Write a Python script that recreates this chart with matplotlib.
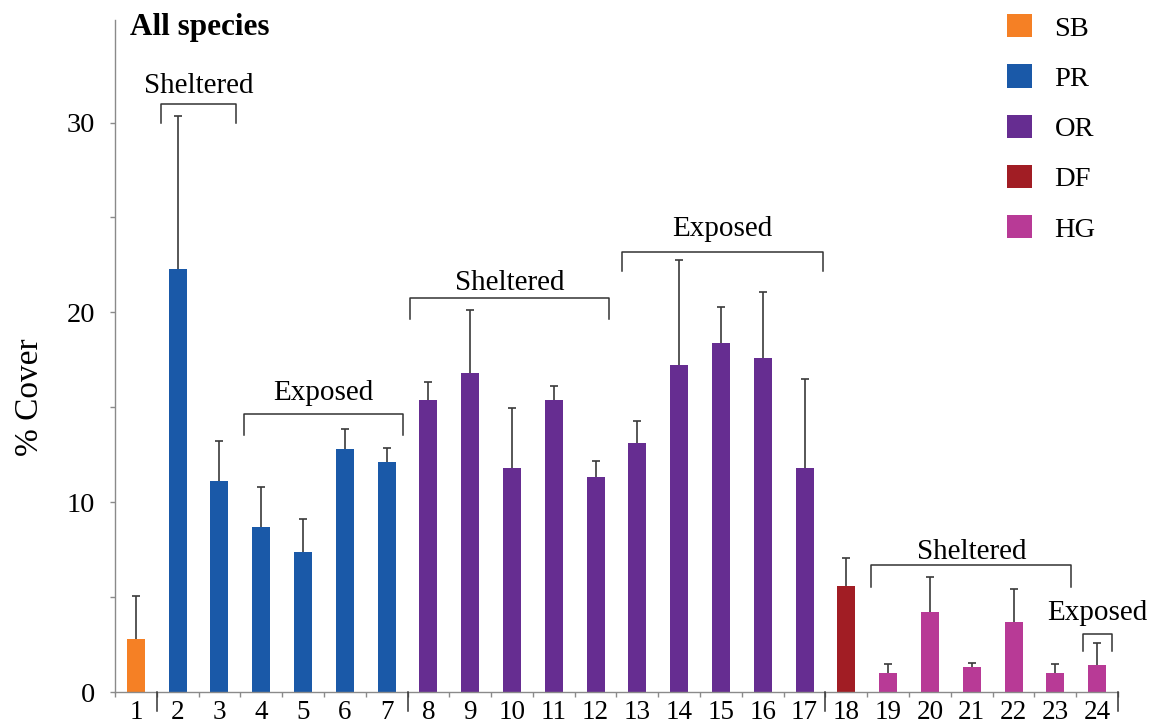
import matplotlib
matplotlib.use("Agg")
import matplotlib.pyplot as plt
from matplotlib.patches import Patch
import numpy as np

plt.rcParams['font.family'] = ['Liberation Serif', 'DejaVu Serif']

# Sites 1-24, mean % cover and upper standard error
sites = list(range(1, 25))
mean_cover = [2.8, 22.3, 11.1, 8.7, 7.4, 12.8, 12.1, 15.4, 16.8, 11.8, 15.4, 11.3,
              13.1, 17.2, 18.4, 17.6, 11.8, 5.6, 1.0, 4.2, 1.3, 3.7, 1.0, 1.4]
se_cover = [2.25, 8.05, 2.1, 2.1, 1.7, 1.05, 0.75, 0.95, 3.3, 3.15, 0.7, 0.85,
            1.15, 5.55, 1.9, 3.45, 4.7, 1.45, 0.45, 1.85, 0.25, 1.75, 0.45, 1.2]
region = ['SB'] + ['PR'] * 6 + ['OR'] * 10 + ['DF'] + ['HG'] * 6

region_names = ['SB', 'PR', 'OR', 'DF', 'HG']
region_colors = {'SB': '#F58025', 'PR': '#1A59A8', 'OR': '#662D91',
                 'DF': '#A11D24', 'HG': '#B83A96'}

# Boundaries between regions on the x axis
region_breaks = [1.5, 7.5, 17.5, 24.5]

# Exposure brackets: label, x start, x end, bracket top, leg bottom, text baseline
bracket_labels = ['Sheltered', 'Exposed', 'Sheltered', 'Exposed', 'Sheltered', 'Exposed']
bracket_x0 = [1.6, 3.58, 7.57, 12.63, 18.6, 23.66]
bracket_x1 = [3.4, 7.39, 12.33, 17.43, 23.38, 24.35]
bracket_top = [31.0, 14.65, 20.75, 23.2, 6.68, 3.07]
bracket_leg = [29.95, 13.56, 19.67, 22.16, 5.54, 2.17]
bracket_text_y = [31.55, 15.37, 21.2, 24.02, 7.0, 3.8]

fig = plt.figure(figsize=(11.56, 7.25), dpi=100)
ax = fig.add_axes([115 / 1156, 1 - 692 / 725, 1003 / 1156, 672 / 725])

colors = [region_colors[r] for r in region]
ax.bar(sites, mean_cover, width=0.43, color=colors, zorder=2)
_, caps, _ = ax.errorbar(sites, mean_cover,
                         yerr=[np.zeros(len(se_cover)), se_cover],
                         fmt='none', ecolor='#3a3a3a', elinewidth=1.2,
                         capsize=2.6, capthick=1.2, zorder=3)
# only the upper whisker carries a cap
caps[0].set_visible(False)

ax.set_xlim(0.5, 24.5)
ax.set_ylim(0, 35.4)

spine_col = '#8a8a8a'
for side in ['top', 'right']:
    ax.spines[side].set_visible(False)
for side in ['left', 'bottom']:
    ax.spines[side].set_color(spine_col)
    ax.spines[side].set_linewidth(1.0)

# y axis ticks
ax.set_yticks([0, 10, 20, 30])
ax.set_yticks([5, 15, 25], minor=True)
ax.tick_params(axis='y', which='both', direction='out', length=3.5,
               color=spine_col, width=1.0, labelsize=20.5, pad=11)

# x axis: labels at site centres, short ticks at site boundaries
ax.set_xticks(sites)
ax.set_xticklabels([str(s) for s in sites])
ax.set_xticks(np.arange(0.5, 25, 1.0), minor=True)
ax.tick_params(axis='x', which='major', length=0, labelsize=19.5, pad=6)
ax.tick_params(axis='x', which='minor', direction='out', length=3.8,
               color=spine_col, width=1.0)

# longer separators between regions
xtrans = ax.get_xaxis_transform()
for xb in region_breaks:
    ax.plot([xb, xb], [0, -0.029], transform=xtrans, color='#333333',
            lw=1.1, clip_on=False, zorder=4)

ax.set_ylabel('% Cover', fontsize=24)
ax.yaxis.set_label_coords(-0.07, 0.439)

# exposure brackets
for lab, x0, x1, yt, yl, ty in zip(bracket_labels, bracket_x0, bracket_x1,
                                    bracket_top, bracket_leg, bracket_text_y):
    ax.plot([x0, x0, x1, x1], [yl, yt, yt, yl], color='#333333', lw=1.1,
            zorder=4, clip_on=False)
    ax.text((x0 + x1) / 2, ty, lab, ha='center', va='baseline', fontsize=21)

ax.text(0.015, 0.9777, 'All species', transform=ax.transAxes, fontsize=22.5,
        fontweight='bold', ha='left', va='baseline')

handles = [Patch(facecolor=region_colors[n], edgecolor='none') for n in region_names]
fig.legend(handles, region_names, loc='upper left',
           bbox_to_anchor=(993 / 1156, 1.0), frameon=False,
           fontsize=20.5, handlelength=0.88, handleheight=0.88,
           handletextpad=0.78, labelspacing=0.8, borderpad=0.0)

fig.savefig('out.png', dpi=100)
